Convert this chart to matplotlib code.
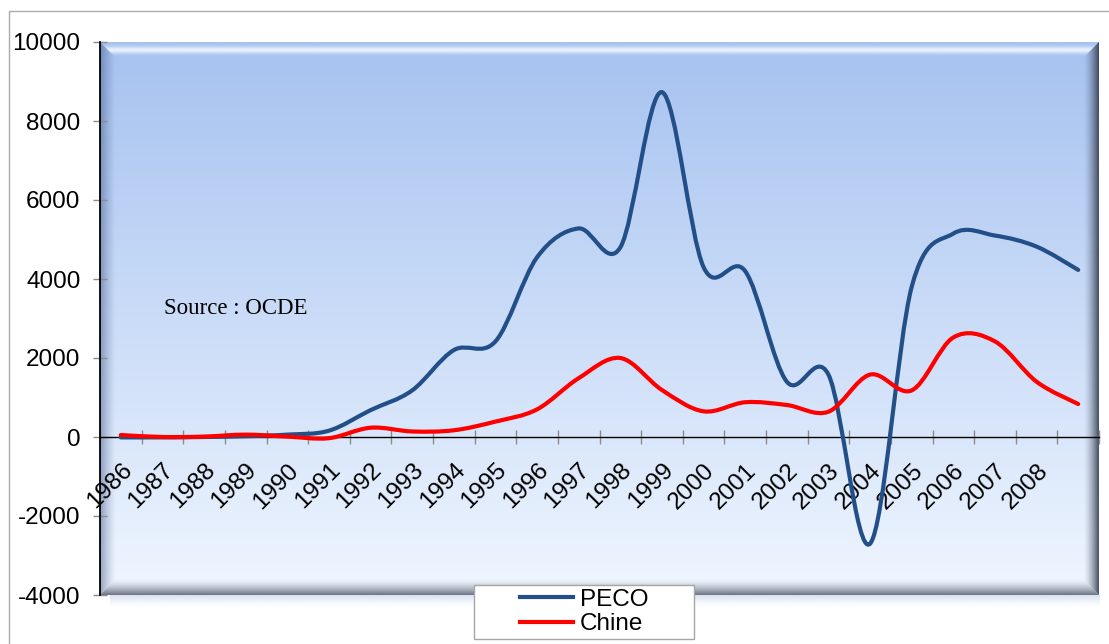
import numpy as np
import matplotlib
matplotlib.use("Agg")
import matplotlib.pyplot as plt
import matplotlib.transforms as mtransforms
from matplotlib.path import Path
from matplotlib.patches import PathPatch, Polygon, Rectangle
from matplotlib.lines import Line2D

plt.rcParams["axes.unicode_minus"] = False

# data (flows, 1986-2009; last category has no label)
years = [str(y) for y in range(1986, 2009)] + [""]
peco = [-10, -10, 0, 20, 60, 160, 680, 1180, 2200, 2420, 4550, 5280, 4800, 8730,
        4300, 4200, 1400, 1580, -2700, 3800, 5150, 5100, 4820, 4230]
chine = [50, 0, 10, 60, 10, -30, 235, 140, 170, 390, 700, 1490, 2000, 1190,
         650, 880, 810, 640, 1580, 1180, 2520, 2420, 1400, 835]

series_names = ["PECO", "Chine"]
series_colors = ["#224f88", "#ff0000"]

W, H = 1109, 644
SANS = "Liberation Sans"


def smooth_path(xs, ys):
    # Catmull-Rom style bezier, like Excel's smoothed line
    pts = np.column_stack([xs, ys]).astype(float)
    n = len(pts)
    verts = [pts[0]]
    codes = [Path.MOVETO]
    for i in range(n - 1):
        p0 = pts[max(i - 1, 0)]
        p1 = pts[i]
        p2 = pts[i + 1]
        p3 = pts[min(i + 2, n - 1)]
        verts += [p1 + (p2 - p0) / 6, p2 - (p3 - p1) / 6, p2]
        codes += [Path.CURVE4] * 3
    return Path(verts, codes)


fig = plt.figure(figsize=(W / 100, H / 100), dpi=100)
rect = [100 / W, (H - 595) / H, 999 / W, 553 / H]

# outer chart border
fig.patches.append(Rectangle((9 / W, -0.1), 1.2, 1 - 11 / H + 0.1,
                             transform=fig.transFigure, fill=False,
                             edgecolor="#ababab", lw=1, zorder=0))

# background axes: gradient + bevel
bg = fig.add_axes(rect, zorder=0)
bg.set_xlim(0, 1)
bg.set_ylim(0, 1)
bg.set_axis_off()

t = np.linspace(0, 1, 256)[:, None]
top_c = np.array([166, 194, 240]) / 255
bot_c = np.array([239, 246, 255]) / 255
grad = (top_c * (1 - t) + bot_c * t)[:, None, :]
bg.imshow(grad, extent=(0, 1, 0, 1), aspect="auto", interpolation="bilinear", zorder=1)

bw = 16 / 999
bh = 16 / 553


def band(poly, extent, rgb, alpha, vertical):
    a = np.asarray(alpha)
    img = np.zeros((len(a), 1, 4)) if vertical else np.zeros((1, len(a), 4))
    img[..., :3] = np.array(rgb) / 255
    if vertical:
        img[:, 0, 3] = a
    else:
        img[0, :, 3] = a
    im = bg.imshow(img, extent=extent, aspect="auto", interpolation="bilinear", zorder=2)
    clip = Polygon(poly, closed=True, transform=bg.transData,
                   facecolor="none", edgecolor="none")
    bg.add_patch(clip)
    im.set_clip_path(clip)


s = np.linspace(0, 1, 64)
# top highlight (row 0 = outer edge)
band([(0, 1), (1, 1), (1 - bw, 1 - bh), (bw, 1 - bh)], (0, 1, 1 - bh, 1),
     (240, 248, 255), 0.9 * np.exp(-((s - 0.5) / 0.22) ** 2), True)
# left shade (col 0 = outer edge)
band([(0, 0), (bw, bh), (bw, 1 - bh), (0, 1)], (0, bw, 0, 1),
     (60, 80, 130), 0.5 * (1 - s) ** 1.3, False)
# right shade (col 0 = inner)
band([(1, 0), (1, 1), (1 - bw, 1 - bh), (1 - bw, bh)], (1 - bw, 1, 0, 1),
     (50, 58, 78), 0.9 * s ** 1.6, False)
# bottom shade (row 0 = inner)
band([(0, 0), (1, 0), (1 - bw, bh), (bw, bh)], (0, 1, 0, bh),
     (75, 82, 98), 0.8 * s ** 1.5, True)

# soft shadow under the plot area
sh = np.zeros((32, 1, 4))
sh[..., :3] = np.array([200, 212, 234]) / 255
sh[:, 0, 3] = 0.7 * (1 - s[::2]) ** 1.5
im = bg.imshow(sh, extent=(0.01, 1.0, -13 / 553, 0), aspect="auto",
               interpolation="bilinear", zorder=1)
im.set_clip_on(False)

# main axes
ax = fig.add_axes(rect, zorder=1)
ax.patch.set_alpha(0)
x = np.arange(len(years))
for vals, col in zip([peco, chine], series_colors):
    ax.add_patch(PathPatch(smooth_path(x, vals), fill=False, edgecolor=col,
                           lw=3, capstyle="round", joinstyle="round", zorder=3))

ax.set_xlim(-0.5, len(years) - 0.5)
ax.set_ylim(-4000, 10000)
ax.set_yticks(range(-4000, 10001, 2000))

for side in ["top", "right"]:
    ax.spines[side].set_visible(False)
ax.spines["bottom"].set_position(("data", 0))
ax.spines["bottom"].set_color("black")
ax.spines["bottom"].set_linewidth(1)
ax.spines["left"].set_color("black")
ax.spines["left"].set_linewidth(1.3)

ax.set_xticks(x)
ax.set_xticklabels(years, rotation=45, ha="right", rotation_mode="anchor",
                   fontsize=17.5, family=SANS)
shift = mtransforms.ScaledTranslation(-0.08, 0, fig.dpi_scale_trans)
for lab in ax.get_xticklabels():
    lab.set_transform(lab.get_transform() + shift)
ax.set_xticks(np.arange(-0.5, len(years)), minor=True)
ax.tick_params(axis="x", which="major", length=0, pad=16)
ax.tick_params(axis="x", which="minor", direction="inout", length=10,
               color="#8c8c8c", width=1)
ax.tick_params(axis="y", direction="inout", length=10, color="#8c8c8c",
               width=1, pad=9, labelsize=17.5)
for lab in ax.get_yticklabels():
    lab.set_family(SANS)

ax.text(0.064, 0.508, "Source : OCDE", transform=ax.transAxes,
        fontsize=16.5, family="Liberation Serif", va="baseline", ha="left")

# legend with its own box
fig.patches.append(Rectangle((474 / W, 1 - 639 / H), 220 / W, 54 / H,
                             transform=fig.transFigure, facecolor="white",
                             edgecolor="#a6a6a6", lw=1, zorder=5))
handles = [Line2D([], [], color=c, lw=3) for c in series_colors]
leg = fig.legend(handles, series_names, loc="center",
                 bbox_to_anchor=(584 / W, 1 - 612 / H), frameon=False,
                 prop={"family": SANS, "size": 17.5}, handlelength=2.2,
                 handletextpad=0.25, labelspacing=0.1, borderpad=0)
leg.set_zorder(10)

fig.savefig("out.png", dpi=100)
